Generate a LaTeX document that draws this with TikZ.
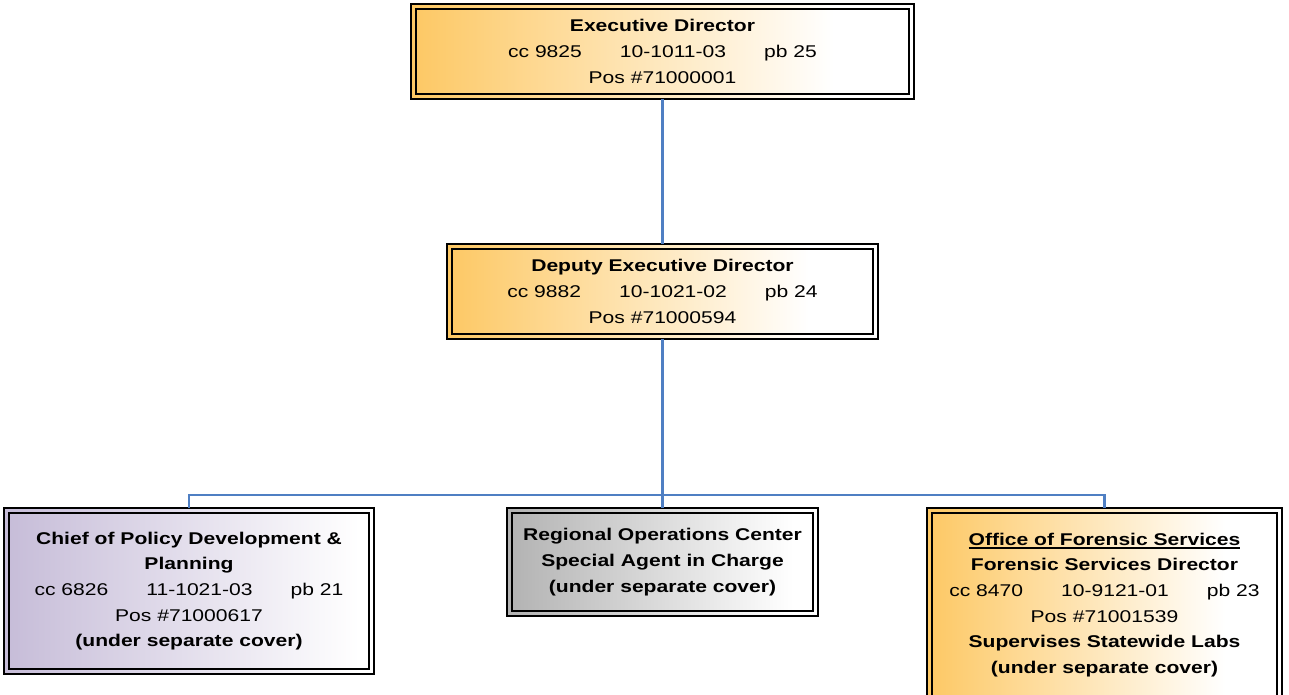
\documentclass[tikz,border=0pt]{standalone}
\usepackage{fontspec}
\setmainfont{Liberation Sans}[FakeStretch=1.24]

\definecolor{boxorange}{HTML}{FDC864}
\definecolor{boxlilac}{HTML}{C6BCD8}
\definecolor{boxgrey}{HTML}{B2B2B2}
\definecolor{linkblue}{HTML}{4F7FC3}

% left-to-right fades; 25bp is the left edge of the box, 75bp the right edge
\pgfdeclarehorizontalshading{fadeorange}{100bp}{color(0bp)=(boxorange); color(25bp)=(boxorange); color(67bp)=(white); color(100bp)=(white)}
\pgfdeclarehorizontalshading{fadelilac}{100bp}{color(0bp)=(boxlilac); color(25bp)=(boxlilac); color(73bp)=(white); color(100bp)=(white)}
\pgfdeclarehorizontalshading{fadegrey}{100bp}{color(0bp)=(boxgrey); color(25bp)=(boxgrey); color(71bp)=(white); color(100bp)=(white)}

\newcommand\tabgap{\hspace{38pt}}
\newcommand\ulined[1]{\setbox0\hbox{#1}\rlap{\rule[-3.6pt]{\wd0}{1.8pt}}\box0}

\tikzset{
  orgbox/.style={draw=black, line width=2.6pt, inner sep=0pt, outer sep=0pt,
    align=center, font=\fontsize{17pt}{25.7pt}\selectfont,
    path picture={\draw[line width=2.1pt]
      ([shift={(4.8pt,4.8pt)}]path picture bounding box.south west) rectangle
      ([shift={(-4.8pt,-4.8pt)}]path picture bounding box.north east);}},
  link/.style={draw=linkblue, line width=2.2pt}
}

\begin{document}
\begin{tikzpicture}[x=1pt,y=-1pt]
\clip (0,0) rectangle (1289,694);
\fill[white] (0,0) rectangle (1289,694);

\node[orgbox, shading=fadeorange, minimum width=503pt, minimum height=95pt] (exec) at (662.5,51.5)
  {\textbf{Executive Director}\\cc 9825\tabgap 10-1011-03\tabgap pb 25\\Pos \#71000001};

\node[orgbox, shading=fadeorange, minimum width=431pt, minimum height=95pt] (deputy) at (662.5,291.5)
  {\textbf{Deputy Executive Director}\\cc 9882\tabgap 10-1021-02\tabgap pb 24\\Pos \#71000594};

\node[orgbox, shading=fadelilac, minimum width=370pt, minimum height=166pt] (policy) at (189,591)
  {\textbf{Chief of Policy Development \&}\\\textbf{Planning}\\cc 6826\tabgap 11-1021-03\tabgap pb 21\\Pos \#71000617\\\textbf{(under separate cover)}};

\node[orgbox, shading=fadegrey, minimum width=311pt, minimum height=108pt] (regional) at (662.5,562)
  {\textbf{Regional Operations Center}\\\textbf{Special Agent in Charge}\\\textbf{(under separate cover)}};

\node[orgbox, shading=fadeorange, minimum width=355pt, minimum height=194pt] (forensic) at (1104.5,605)
  {\textbf{\ulined{Office of Forensic Services}}\\\textbf{Forensic Services Director}\\cc 8470\tabgap 10-9121-01\tabgap pb 23\\Pos \#71001539\\\textbf{Supervises Statewide Labs}\\\textbf{(under separate cover)}};

% reporting lines
\coordinate (hub) at (662.5,495);
\draw[link] (exec.south) -- (deputy.north);
\draw[link] (deputy.south) -- (hub);
\draw[link] (regional.north) -- (hub);
\draw[link] (policy.north) |- (hub);
\draw[link] (forensic.north) |- (hub);
\end{tikzpicture}
\end{document}
